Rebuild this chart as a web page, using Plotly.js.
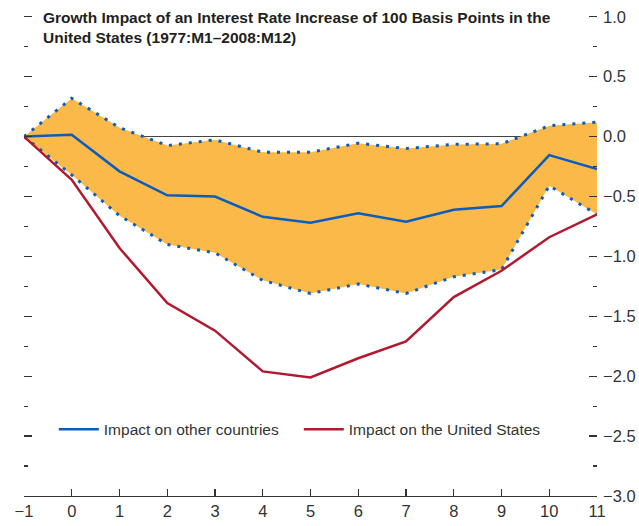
<!DOCTYPE html>
<html>
<head>
<meta charset="utf-8">
<script src="https://cdn.plot.ly/plotly-3.0.1.min.js"></script>
<style>html,body{margin:0;padding:0;background:#fff;}</style>
</head>
<body>
<div id="chart" style="width:639px;height:526px;"></div>
<script>
const months = [-1, 0, 1, 2, 3, 4, 5, 6, 7, 8, 9, 10, 11];
const otherCountries = [0, 0.015, -0.29, -0.49, -0.50, -0.67, -0.72, -0.64, -0.71, -0.61, -0.58, -0.155, -0.27];
const unitedStates = [0, -0.36, -0.93, -1.39, -1.62, -1.96, -2.01, -1.85, -1.71, -1.34, -1.12, -0.84, -0.65];
const bandUpper = [0, 0.32, 0.075, -0.075, -0.027, -0.13, -0.13, -0.055, -0.10, -0.065, -0.06, 0.09, 0.12];
const bandLower = [0, -0.32, -0.66, -0.90, -0.97, -1.20, -1.31, -1.23, -1.31, -1.17, -1.11, -0.41, -0.65];
const yTicks = [1.0, 0.5, 0.0, -0.5, -1.0, -1.5, -2.0, -2.5, -3.0];
const xTicks = [-1, 0, 1, 2, 3, 4, 5, 6, 7, 8, 9, 10, 11];
const titleText = '<b>Growth Impact of an Interest Rate Increase of 100 Basis Points in the<br>United States (1977:M1–2008:M12)</b>';

const FONT = "'Liberation Sans Narrow', 'Arial Narrow', 'Liberation Sans', Arial, sans-serif";
const BLUE = '#0a5cbe';
const RED = '#b2182e';
const ORANGE = '#fbb94a';

const traces = [
  {x: months, y: bandLower, type: 'scatter', mode: 'lines', showlegend: false,
   line: {color: BLUE, width: 3, dash: '3px,7px'}, hoverinfo: 'skip'},
  {x: months, y: bandUpper, type: 'scatter', mode: 'lines', showlegend: false,
   fill: 'tonexty', fillcolor: ORANGE,
   line: {color: BLUE, width: 3, dash: '3px,7px'}, hoverinfo: 'skip'},
  {x: months, y: otherCountries, type: 'scatter', mode: 'lines', name: 'Impact on other countries',
   line: {color: BLUE, width: 2.5}},
  {x: months, y: unitedStates, type: 'scatter', mode: 'lines', name: 'Impact on the United States',
   line: {color: RED, width: 2.5}},
  {x: [months[0]], y: [0], yaxis: 'y2', type: 'scatter', mode: 'markers', showlegend: false,
   marker: {opacity: 0}, hoverinfo: 'skip'}
];

const Y_RANGE = [-3, 1.015];

const layout = {
  width: 639, height: 526,
  margin: {l: 24, r: 42, t: 15, b: 30},
  paper_bgcolor: '#fff', plot_bgcolor: '#fff',
  font: {family: FONT, size: 16, color: '#333'},
  annotations: [{
    text: titleText, xref: 'paper', yref: 'paper',
    x: (41 - 24) / 573, xanchor: 'left', y: (481 + 8) / 481, yanchor: 'top',
    align: 'left', showarrow: false,
    font: {family: FONT, size: 15.5, color: '#231f20'}
  }],
  xaxis: {
    range: [-1, 11], tickvals: xTicks, ticks: 'inside', ticklen: 7, tickwidth: 1.3,
    tickcolor: '#333', showline: true, linecolor: '#333', linewidth: 1.3,
    showgrid: false, zeroline: false, tickfont: {size: 16.5, color: '#333'}, fixedrange: true
  },
  yaxis: {
    range: Y_RANGE, side: 'right', tickvals: yTicks, tickformat: '.1f',
    ticks: 'inside', ticklen: 8, tickwidth: 1.3, tickcolor: '#333', ticklabelstandoff: 5,
    minor: {dtick: 0.25, tick0: 0, ticks: 'inside', ticklen: 4, tickwidth: 1.3, tickcolor: '#333', showgrid: false},
    showline: false, showgrid: false, layer: 'above traces',
    zeroline: true, zerolinecolor: '#444', zerolinewidth: 1.2,
    tickfont: {size: 16.5, color: '#333'}, fixedrange: true
  },
  yaxis2: {
    range: Y_RANGE, overlaying: 'y', side: 'left', tickvals: yTicks,
    showticklabels: false, ticks: 'inside', ticklen: 8, tickwidth: 1.3, tickcolor: '#333',
    minor: {dtick: 0.25, tick0: 0, ticks: 'inside', ticklen: 4, tickwidth: 1.3, tickcolor: '#333', showgrid: false},
    showline: false, showgrid: false, zeroline: false, fixedrange: true
  },
  legend: {
    orientation: 'h', traceorder: 'normal', x: 0.052, xanchor: 'left', y: 0.138, yanchor: 'middle',
    bgcolor: 'rgba(0,0,0,0)', font: {size: 15.5, color: '#333'},
    entrywidth: 190, entrywidthmode: 'pixels', itemwidth: 40
  },
  showlegend: true
};

Plotly.newPlot('chart', traces, layout, {displayModeBar: false, staticPlot: true});
</script>
</body>
</html>
